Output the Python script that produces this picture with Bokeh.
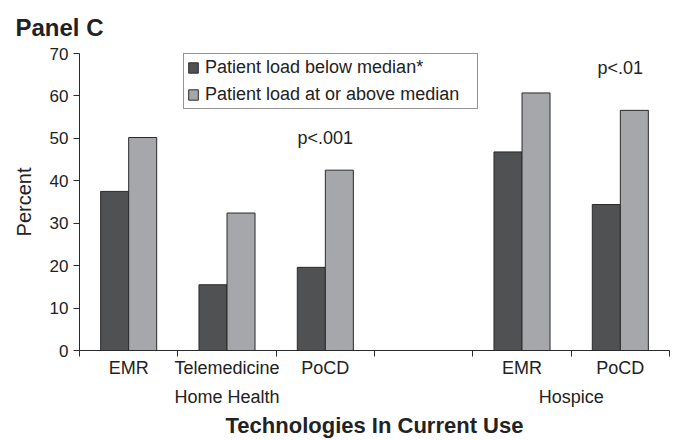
from bokeh.plotting import figure
from bokeh.models import FixedTicker, LinearAxis, Range1d, Legend, LegendItem, ColumnDataSource
from bokeh.core.properties import value
from bokeh.embed import file_html
from bokeh.resources import INLINE

# ---- data ----
slot_labels = ["EMR", "Telemedicine", "PoCD", "", "EMR", "PoCD"]
slot_groups = ["Home Health", "Home Health", "Home Health", None, "Hospice", "Hospice"]
groups = ["Home Health", "Hospice"]
below_median = [37.5, 15.5, 19.6, None, 46.8, 34.4]
above_median = [50.2, 32.4, 42.5, None, 60.7, 56.6]
series_names = ["Patient load below median*", "Patient load at or above median"]
p_labels = ["p<.001", "p<.01"]
p_slot_index = [2, 5]
p_label_y = [50.2, 66.7]
y_ticks = [0, 10, 20, 30, 40, 50, 60, 70]

FONT = "Liberation Sans"
TXT = "#222222"
DARK = "#505153"
LIGHT = "#a6a7aa"
EDGE = "#2a2a2a"

n_slots = len(slot_labels)
bar_idx = [i for i in range(n_slots) if below_median[i] is not None]
bw = 0.285

src = ColumnDataSource(dict(
    x_dark=[i - bw / 2 for i in bar_idx],
    x_light=[i + bw / 2 for i in bar_idx],
    below=[below_median[i] for i in bar_idx],
    above=[above_median[i] for i in bar_idx],
))

p = figure(width=677, height=440, x_range=Range1d(-0.5, n_slots - 0.5),
           y_range=Range1d(0, 70), output_backend="svg", toolbar_location=None,
           x_axis_type=None, min_border_left=79, min_border_right=8,
           min_border_top=53, min_border_bottom=90)
p.outline_line_color = None
p.grid.visible = False
p.background_fill_color = "white"

r_below = p.vbar(x="x_dark", top="below", width=bw, source=src, fill_color=DARK,
                 line_color=EDGE, line_width=1)
r_above = p.vbar(x="x_light", top="above", width=bw, source=src, fill_color=LIGHT,
                 line_color=EDGE, line_width=1)

# p-value labels
p.text(x=p_slot_index, y=p_label_y, text=p_labels, text_align="center",
       text_baseline="middle", text_font=value(FONT), text_font_size="18px",
       text_color=TXT)

legend = Legend(items=[LegendItem(label=series_names[0], renderers=[r_below]),
                       LegendItem(label=series_names[1], renderers=[r_above])],
                location=(104, 241), orientation="vertical")
legend.label_text_font = FONT
legend.label_text_font_size = "18px"
legend.label_text_color = TXT
legend.glyph_width = 12
legend.glyph_height = 13
legend.label_standoff = 6
legend.label_width = 269
legend.padding = 3
legend.spacing = 6
legend.margin = 0
legend.border_line_color = EDGE
legend.border_line_width = 1
legend.background_fill_alpha = 1
p.add_layout(legend, "center")

# title
p.title.text = "Panel C"
p.title.text_font = FONT
p.title.text_font_size = "24px"
p.title.text_font_style = "bold"
p.title.text_color = TXT
p.title.align = "left"
p.title.vertical_align = "top"
p.title.offset = -64
p.title.standoff = 22

# y axis
ya = p.yaxis[0]
ya.ticker = FixedTicker(ticks=y_ticks)
ya.axis_label = "Percent"
ya.axis_label_text_font = FONT
ya.axis_label_text_font_size = "20px"
ya.axis_label_text_font_style = "normal"
ya.axis_label_text_color = TXT
ya.axis_label_standoff = 12
ya.major_label_text_font = FONT
ya.major_label_text_font_size = "17px"
ya.major_label_text_color = TXT
ya.major_tick_out = 6
ya.major_tick_in = 0
ya.minor_tick_line_color = None
ya.major_label_standoff = 5
ya.axis_line_color = EDGE
ya.major_tick_line_color = EDGE

# x axis 1: category labels with boundary ticks
label_ticks = [i for i in range(n_slots) if slot_labels[i]]
boundaries = [i - 0.5 for i in range(n_slots + 1)]
xa = LinearAxis(ticker=FixedTicker(ticks=label_ticks, minor_ticks=boundaries))
xa.major_label_overrides = {i: slot_labels[i] for i in label_ticks}
xa.major_tick_line_color = None
xa.major_tick_out = 0
xa.major_tick_in = 0
xa.minor_tick_out = 6
xa.minor_tick_in = 0
xa.minor_tick_line_color = EDGE
xa.axis_line_color = EDGE
xa.major_label_standoff = 1
xa.major_label_text_font = FONT
xa.major_label_text_font_size = "18px"
xa.major_label_text_color = TXT
p.add_layout(xa, "below")

# x axis 2: group labels
group_centers = []
for g in groups:
    idx = [i for i in range(n_slots) if slot_groups[i] == g]
    group_centers.append(sum(idx) / len(idx))
ga = LinearAxis(ticker=FixedTicker(ticks=group_centers))
ga.major_label_overrides = {c: g for c, g in zip(group_centers, groups)}
ga.axis_line_color = None
ga.major_tick_line_color = None
ga.minor_tick_line_color = None
ga.major_label_standoff = 0
ga.major_label_text_font = FONT
ga.major_label_text_font_size = "18px"
ga.major_label_text_color = TXT
ga.axis_label = "Technologies In Current Use"
ga.axis_label_text_font = FONT
ga.axis_label_text_font_size = "22px"
ga.axis_label_text_font_style = "bold"
ga.axis_label_text_color = TXT
ga.axis_label_standoff = 3
p.add_layout(ga, "below")

open("out.html", "w").write(file_html(p, INLINE))
